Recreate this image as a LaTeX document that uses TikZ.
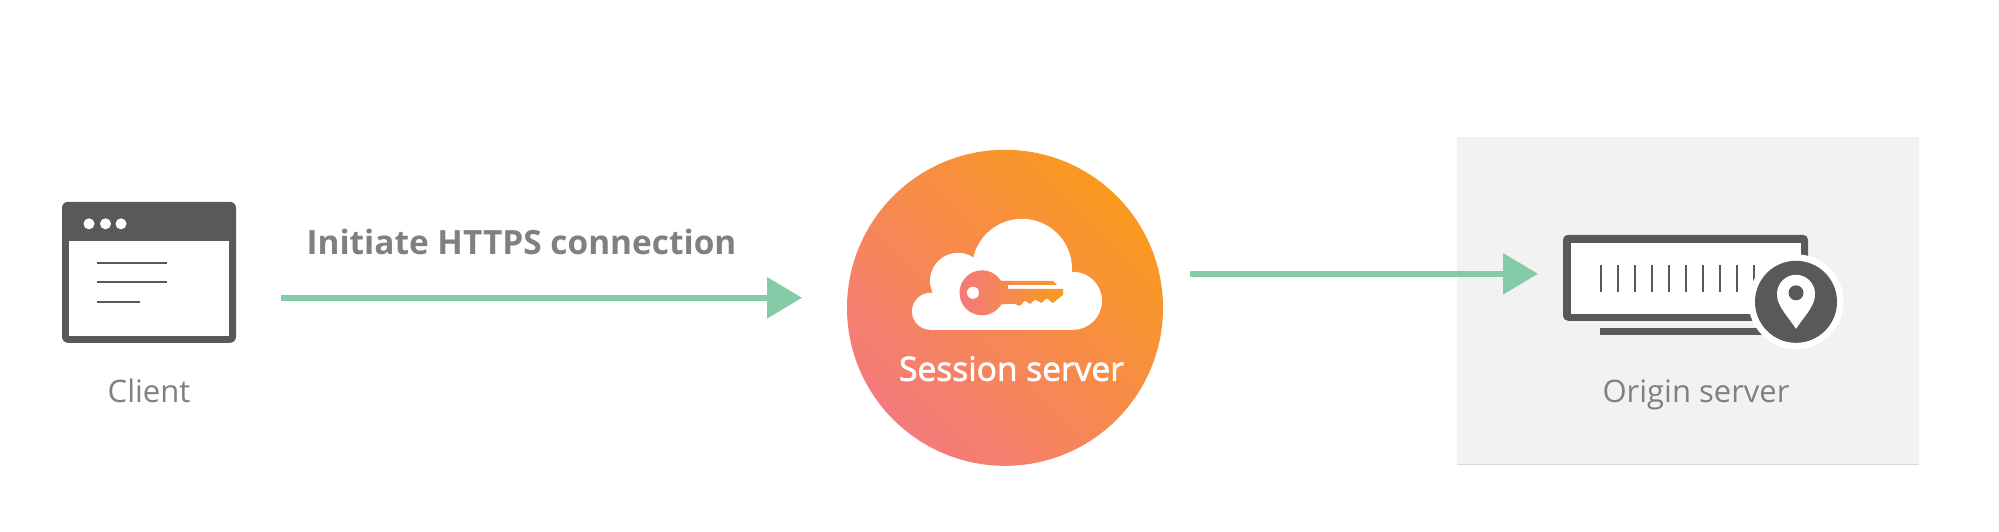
\documentclass[tikz,border=0pt]{standalone}
\usepackage{fontspec}
\setmainfont{Open Sans}
\newfontfamily\semibold[FakeBold=2]{Open Sans}
\usetikzlibrary{arrows.meta}
\definecolor{dark}{HTML}{58595B}
\definecolor{labelgray}{HTML}{808080}
\definecolor{flow}{HTML}{84CBA8}
\definecolor{panel}{HTML}{F2F2F2}
\definecolor{gradA}{HTML}{F99A1E}
\definecolor{gradB}{HTML}{F47A7C}
\tikzset{
  flowline/.style={draw=flow,line width=6pt,-{Triangle[length=35pt,width=40pt]}},
  lbl/.style={text=labelgray,font=\fontsize{31}{31}\selectfont,anchor=base,inner sep=0pt},
  blbl/.style={text=labelgray,font=\fontsize{33.4}{33}\selectfont\bfseries,anchor=base,inner sep=0pt},
  wlbl/.style={text=white,font=\fontsize{33.5}{33}\selectfont\semibold,anchor=base,inner sep=0pt},
  thin line/.style={draw=dark,line width=2pt},
}
\begin{document}
\begin{tikzpicture}[x=1pt,y=-1pt]
\useasboundingbox (0,-0.8) rectangle (1999,530.2);
\fill[white] (0,-0.8) rectangle (1999,530.2);
% origin panel
\node[fill=panel,minimum width=462pt,minimum height=328pt,inner sep=0pt,outer sep=0pt] (panel) at (1688,300) {};
\draw[draw=black!15,line width=1pt] (1457,464) -- (1919,464);
% client window
\node[fill=dark,rounded corners=6pt,minimum width=174pt,minimum height=141pt,inner sep=0pt,outer sep=0pt] (client) at (149,271.5) {};
\fill[white] (69,240) rectangle (229,335);
\foreach \x in {89,105.5,121} \fill[white] (\x,223) circle (5.5);
\draw[thin line] (97,262) -- (167,262);
\draw[thin line] (97,281.5) -- (167,281.5);
\draw[thin line] (97,301) -- (140,301);
\node[lbl] (clientlbl) at (149,401.5) {Client};
% session circle
\shade[shading=axis,left color=gradB,right color=gradA,shading angle=135] (1005,307) circle (158);
\node[minimum size=316pt,circle,inner sep=0pt] (session) at (1005,307) {};
% cloud
\fill[white] (930.5,310.5) circle (18.5) (958,280) circle (28) (1022,268) circle (50) (1073,300) circle (29);
\fill[white] (930.5,292) rectangle (1073,329) (958,270) rectangle (1050,300);
% key
\shade[left color=gradB,right color=gradA]
  (982,292) circle (22.5)
  (990,280) -- (1053,280) -- (1057,284) -- (1008,284) -- (1008,288) -- (1063,288) -- (1063,294) -- (1053,302)
  .. controls (1051,302.5) and (1049.5,298) .. (1047,298)
  .. controls (1044.5,298) and (1043,302) .. (1041,302)
  .. controls (1039,302) and (1038,299) .. (1035.5,299)
  .. controls (1033,299) and (1032,303) .. (1030,303)
  .. controls (1028,303) and (1027,300) .. (1025,300)
  .. controls (1023,300) and (1022,305) .. (1019,305)
  -- (1015,303) -- (990,304) -- cycle;
\fill[white] (973,292) circle (6);
\node[wlbl] (sessionlbl) at (1011.5,380) {Session server};
% origin icon
\node[fill=dark,rounded corners=5pt,minimum width=245pt,minimum height=86pt,inner sep=0pt,outer sep=0pt] (monitor) at (1685.5,277) {};
\fill[white] (1571,242) rectangle (1801,313);
\foreach \i in {0,...,9} \fill[dark] ({1600+17*\i},264) rectangle ({1602+17*\i},291);
\fill[dark] (1600,327) rectangle (1775,334);
\node[circle,fill=white,minimum size=95pt,inner sep=0pt] (pinouter) at (1796,301) {};
\node[circle,fill=dark,minimum size=82pt,inner sep=0pt] (pinbg) at (1796,301) {};
\fill[white] (1796,293) circle (19);
\fill[white] (1796,328) .. controls (1788,316) and (1778,306) .. (1777.3,296) -- (1814.7,296) .. controls (1814,306) and (1804,316) .. (1796,328) -- cycle;
\fill[dark] (1796,292) circle (7.5);
\node[lbl] (originlbl) at (1696,402) {Origin server};
% connectors
\coordinate (s1) at (281,297);
\coordinate (e1) at (802,297);
\coordinate (s2) at (1190,273);
\coordinate (e2) at (1538,273);
\draw[flowline] (s1) -- (e1);
\draw[flowline] (s2) -- (e2);
\node[blbl] (initlbl) at (521.5,253.5) {Initiate HTTPS connection};
\end{tikzpicture}
\end{document}
